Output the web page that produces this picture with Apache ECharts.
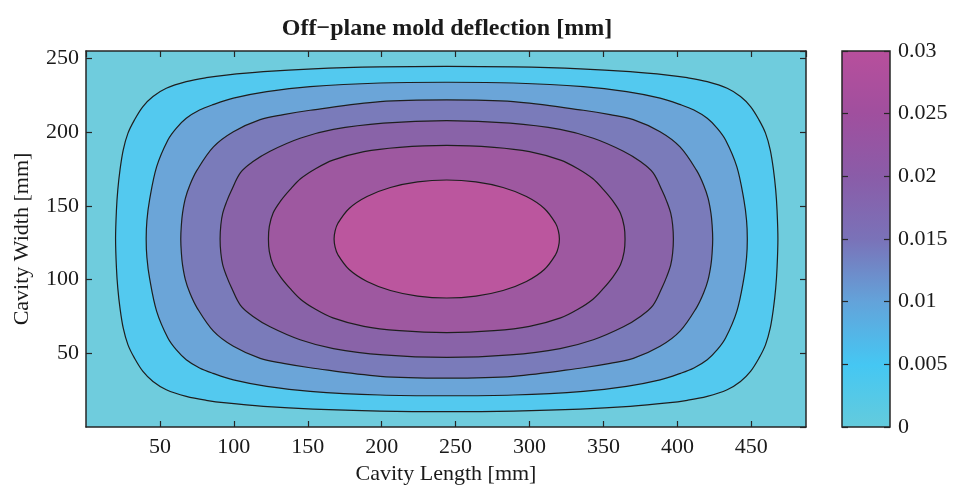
<!DOCTYPE html>
<html>
<head>
<meta charset="utf-8">
<script src="https://cdn.jsdelivr.net/npm/echarts@6/dist/echarts.min.js"></script>
<style>
  html, body { margin: 0; padding: 0; background: #fff; }
  #main { width: 953px; height: 486px; }
</style>
</head>
<body>
<div id="main"></div>
<script>
// plate extent [mm] and center of the (symmetric) deflection field
var xMax = 487;
var yMax = 255;
var center = [244, 127.5];

// contour lines, upper-left quarter, from left middle to top middle [mm]
// (the field is symmetric, the other three quarters are mirrored)
var contour1 = [[20.0,127.5],[20.6,147.3],[21.5,160.8],[23.0,174.4],[25.2,188.0],[28.4,199.3],[32.8,208.3],[38.5,217.3],[45.3,224.1],[54.3,229.7],[67.8,234.2],[81.3,236.9],[94.8,238.7],[120.0,241.0],[153.6,242.9],[198.8,244.2],[244,244.6]];
var contour2 = [[40.7,127.5],[41.2,140.0],[43.0,154.1],[47.8,176.6],[55.4,194.7],[61.0,202.6],[67.8,209.4],[76.8,215.0],[85.8,218.6],[99.7,223.0],[122.3,227.4],[151.6,230.8],[198.9,233.3],[244,233.8]];
var contour3 = [[64.1,127.5],[64.5,137],[65.3,145],[67.2,155],[70.2,164],[75.0,174],[86.2,190],[99.7,200.3],[117.8,208.5],[133.5,211.9],[151.6,214.8],[198.9,220.6],[244,221.8]];
var contour4 = [[90.7,127.5],[91.2,137],[92.5,145],[95.2,153],[98.2,160],[104.5,172.5],[113,180],[124.5,187],[144.8,195.8],[167.3,201.8],[201.1,206.1],[244,207.8]];
var contour5 = [[123.4,127.5],[124,136],[126.5,145],[131.8,153.5],[138,161],[145.3,168.5],[155,175],[167,181],[188,186.8],[212,189.7],[244,191]];
var contour6 = [[167.8,127.5],[168.5,133],[170.4,138.2],[178,148.2],[190.1,156.3],[205.9,162.4],[224.3,166.2],[244,167.5]];
var contours = [contour1, contour2, contour3, contour4, contour5, contour6];

// fill colour of each band, outside -> peak
var bandColors = ['#6fccdd', '#53c9ef', '#6ba5d8', '#7a7bba', '#8963a8', '#9e58a0', '#bb569e'];

// colorbar
var cbMin = 0, cbMax = 0.03, cbStep = 0.005;
var cbStops = [[0, '#64cbdc'], [0.005, '#45c7f3'], [0.01, '#63a3da'], [0.015, '#7a72b8'], [0.02, '#8a5ca8'], [0.025, '#a04f9e'], [0.03, '#b84f9c']];

var font = 'Liberation Serif, Times New Roman, serif';
var ink = '#1a1a1a';
var lineCol = '#262626';

// quarter -> closed loop
function fullLoop(q) {
  var cx = center[0], cy = center[1];
  var pts = q.slice();
  var r = q.slice().reverse();
  r.slice(1).forEach(function (p) { pts.push([2 * cx - p[0], p[1]]); });
  q.slice(1).forEach(function (p) { pts.push([2 * cx - p[0], 2 * cy - p[1]]); });
  r.slice(1, r.length - 1).forEach(function (p) { pts.push([p[0], 2 * cy - p[1]]); });
  return pts;
}
var loops = contours.map(fullLoop);

var chart = echarts.init(document.getElementById('main'));

function valAxis(pos, idx, extra) {
  var a = {
    type: 'value', position: pos, gridIndex: idx, z: 5,
    axisLine: { show: true, onZero: false, lineStyle: { color: lineCol, width: 1.5 } },
    axisTick: { show: true, inside: true, length: 6, lineStyle: { color: lineCol, width: 1.2 } },
    splitLine: { show: false },
    axisLabel: { show: false }
  };
  for (var k in extra) a[k] = extra[k];
  return a;
}

var tickLabel = { show: true, color: ink, fontFamily: font, fontSize: 22, showMinLabel: false, showMaxLabel: false };

chart.setOption({
  animation: false,
  title: {
    text: 'Off\u2212plane mold deflection [mm]',
    left: 447, top: 17, textAlign: 'center', padding: 0,
    textStyle: { fontFamily: font, fontSize: 24, fontWeight: 'bold', color: ink }
  },
  grid: [
    { left: 86, top: 51, width: 720, height: 376, show: true, backgroundColor: bandColors[0], borderWidth: 0, outerBoundsMode: 'none', containLabel: false },
    { left: 842, top: 51, width: 48, height: 376, outerBoundsMode: 'none', containLabel: false }
  ],
  xAxis: [
    valAxis('bottom', 0, {
      min: 0, max: xMax, interval: 50,
      axisLabel: Object.assign({ margin: 9 }, tickLabel),
      name: 'Cavity Length [mm]', nameLocation: 'middle', nameGap: 35,
      nameTextStyle: { fontFamily: font, fontSize: 22, color: ink }
    }),
    valAxis('top', 0, { min: 0, max: xMax, interval: 50 }),
    { type: 'value', gridIndex: 1, min: 0, max: 1, show: false }
  ],
  yAxis: [
    valAxis('left', 0, {
      min: 0, max: yMax, interval: 50,
      axisLabel: Object.assign({ margin: 7 }, tickLabel),
      name: 'Cavity Width [mm]', nameLocation: 'middle', nameGap: 53,
      nameTextStyle: { fontFamily: font, fontSize: 22, color: ink }
    }),
    valAxis('right', 0, { min: 0, max: yMax, interval: 50 }),
    valAxis('right', 1, {
      min: cbMin, max: cbMax, interval: cbStep,
      axisLine: { show: false, onZero: false },
      axisLabel: { show: true, color: ink, fontFamily: font, fontSize: 22, margin: 8 }
    }),
    valAxis('left', 1, { min: cbMin, max: cbMax, interval: cbStep, axisLine: { show: false, onZero: false } })
  ],
  series: [
    {
      type: 'custom',
      xAxisIndex: 0, yAxisIndex: 0,
      clip: true,
      data: loops.map(function (l, i) { return [i]; }),
      renderItem: function (params, api) {
        var i = params.dataIndex;
        var pts = loops[i].map(function (p) { return api.coord(p); });
        return {
          type: 'polygon',
          shape: { points: pts, smooth: 0.35 },
          style: { fill: bandColors[i + 1], stroke: '#1e1e1e', lineWidth: 1.2 }
        };
      }
    },
    {
      type: 'custom',
      xAxisIndex: 2, yAxisIndex: 2,
      data: [[0, cbMin, 1, cbMax]],
      renderItem: function (params, api) {
        var p0 = api.coord([api.value(0), api.value(1)]);
        var p1 = api.coord([api.value(2), api.value(3)]);
        var stops = cbStops.map(function (s) {
          return { offset: (s[0] - cbMin) / (cbMax - cbMin), color: s[1] };
        });
        return {
          type: 'rect',
          shape: { x: p0[0], y: p1[1], width: p1[0] - p0[0], height: p0[1] - p1[1] },
          style: {
            fill: new echarts.graphic.LinearGradient(0, 1, 0, 0, stops),
            stroke: lineCol, lineWidth: 1.5
          }
        };
      }
    }
  ]
});
</script>
</body>
</html>
